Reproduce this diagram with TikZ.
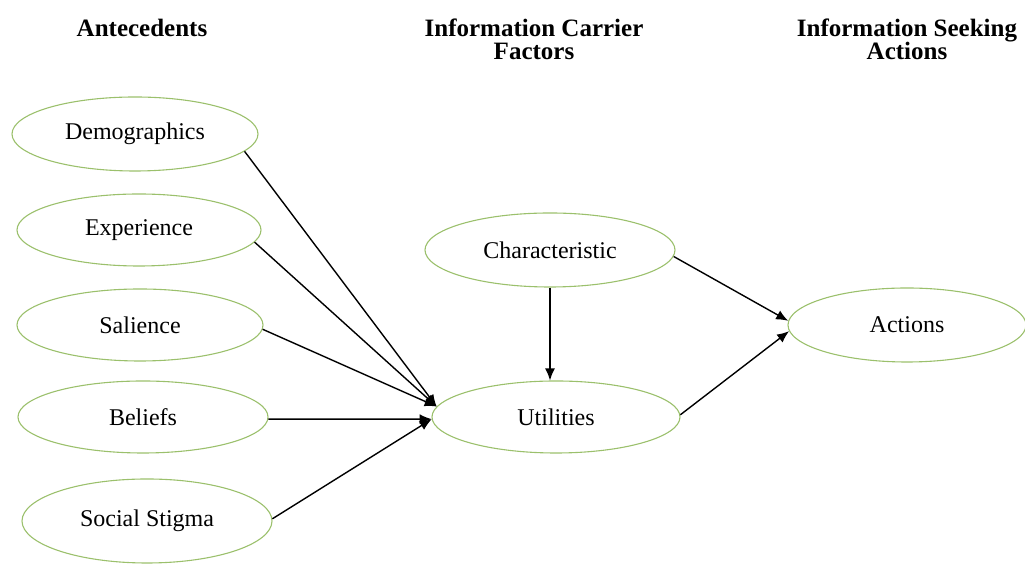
\documentclass[tikz,border=0pt]{standalone}
\usepackage{fontspec}
\setmainfont{Liberation Serif}
\usetikzlibrary{shapes.geometric,arrows.meta}
\definecolor{ellgreen}{RGB}{155,192,108}
\tikzset{
	factor/.style={ellipse, draw=ellgreen, line width=0.55pt, inner sep=0pt, minimum width=123pt, minimum height=37pt, font=\fontsize{12}{14}\selectfont},
	heading/.style={align=center, inner sep=0pt, anchor=north, font=\bfseries\fontsize{12.5}{11.5}\selectfont},
	link/.style={-{Latex[length=6pt,width=5pt]}, line width=0.7pt}
}
\begin{document}
\begin{tikzpicture}[x=0.5pt,y=-0.5pt]
	\useasboundingbox (0,0) rectangle (1025,565);

	% headings
	\node[heading] (hant) at (142,19) {Antecedents};
	\node[heading] (hcar) at (534,19) {Information Carrier\\Factors};
	\node[heading] (hact) at (907,19) {Information Seeking\\Actions};

	% antecedents
	\node[factor] (demo) at (135,134) {Demographics};
	\node[factor, minimum width=122pt, minimum height=36pt] (exp) at (139,230) {Experience};
	\node[factor, minimum height=36pt] (sal) at (140,325) {Salience};
	\node[factor, minimum width=125pt, minimum height=36pt] (bel) at (143,417) {Beliefs};
	\node[factor, minimum width=125pt, minimum height=42pt] (stig) at (147,521) {Social Stigma};

	% carrier factors
	\node[factor, minimum width=125pt] (char) at (550,250) {Characteristic};
	\node[factor, minimum width=124pt, minimum height=36pt] (util) at (556,417) {Utilities};

	% actions
	\node[factor, minimum width=119pt] (act) at (907,325) {Actions};

	% antecedents to utilities
	\draw[link] (demo.-9) -- (util.175);
	\draw[link] (exp.-6) -- (util.175);
	\draw[link] (sal.-2) -- (util.175);
	\draw[link] (bel.-1) -- (util.181);
	\draw[link] (stig.1) -- (util.181);

	% carrier factors to actions
	\draw[link] (char.south) -- (char.south |- util.north);
	\draw[link] (char.-3) -- (act.178);
	\draw[link] (util.1) -- (act.183);

\end{tikzpicture}
\end{document}
